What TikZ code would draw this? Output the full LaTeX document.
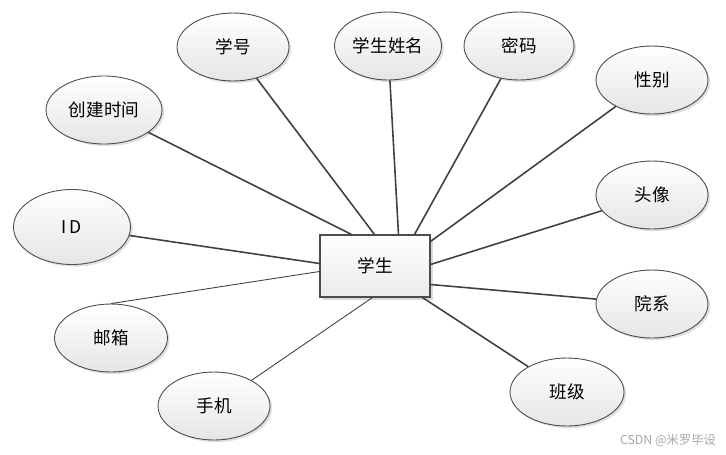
\documentclass[tikz,border=0pt]{standalone}
\usepackage{fontspec}
\newfontfamily\cjk{Noto Sans CJK SC}
\usetikzlibrary{shapes.geometric, shadows, calc}
\begin{document}
\begin{tikzpicture}[x=0.02cm, y=-0.02cm, every node/.style={font=\cjk\fontsize{10}{12}\selectfont},
    attr/.style={ellipse, draw=black!70, line width=0.5pt, top color=white, bottom color=black!10,
      drop shadow={opacity=0.25, shadow xshift=1.2pt, shadow yshift=-1.2pt},
      minimum width=2.24cm, minimum height=1.36cm, inner sep=0pt},
    ent/.style={draw=black!70, line width=0.6pt, top color=white, bottom color=black!8,
      drop shadow={opacity=0.3, shadow xshift=1.5pt, shadow yshift=-1.5pt},
      minimum width=2.2cm, minimum height=1.24cm},
    lnk/.style={draw=black!75, line width=0.9pt},
    lnkthin/.style={draw=black!75, line width=0.5pt}]
  \useasboundingbox (0,0) rectangle (726,454);
  % Entity
  \node[ent] (xs) at (375, 266) {学生};
  % Attributes
  \node[attr] (xuehao)   at (233, 47)  {学号};
  \node[attr, minimum width=2.14cm] (xingming) at (388, 46) {学生姓名};
  \node[attr, minimum width=2.2cm] (mima) at (519, 46) {密码};
  \node[attr] (xingbie)  at (652, 80)  {性别};
  \node[attr, minimum width=2.32cm] (cjsj) at (104, 110) {创建时间};
  \node[attr] (touxiang) at (652, 195) {头像};
  \node[attr, minimum width=2.34cm, minimum height=1.5cm] (sid) at (72, 227) {I\,D};
  \node[attr] (yuanxi)   at (652, 304) {院系};
  \node[attr, minimum width=2.26cm] (youxiang) at (111, 338) {邮箱};
  \node[attr, minimum width=2.28cm] (banji) at (567, 392) {班级};
  \node[attr] (shouji)   at (214, 406) {手机};
  % Links
  \draw[lnk] (cjsj) -- ($(xs.north west)+(32,0)$);
  \draw[lnk] (xuehao) -- ($(xs.north west)+(55,0)$);
  \draw[lnk] (xingming) -- ($(xs.north west)+(79,0)$);
  \draw[lnk] (mima) -- ($(xs.north west)+(95,0)$);
  \draw[lnk] (xingbie) -- ($(xs.north east)+(0,7)$);
  \draw[lnk] (touxiang) -- ($(xs.north east)+(0,30)$);
  \draw[lnk] (yuanxi) -- ($(xs.north east)+(0,50)$);
  \draw[lnk] (banji) -- ($(xs.south east)+(-8,0)$);
  \draw[lnk] (sid) -- ($(xs.north west)+(0,29)$);
  \draw[lnkthin] (youxiang.north) -- ($(xs.north west)+(0,37)$);
  \draw[lnkthin] (shouji) -- ($(xs.south west)+(53,0)$);
  % Watermark
  \node[text=black!35, font=\cjk\fontsize{7}{8}\selectfont] (wm) at (668, 440) {CSDN @米罗毕设};
\end{tikzpicture}
\end{document}
